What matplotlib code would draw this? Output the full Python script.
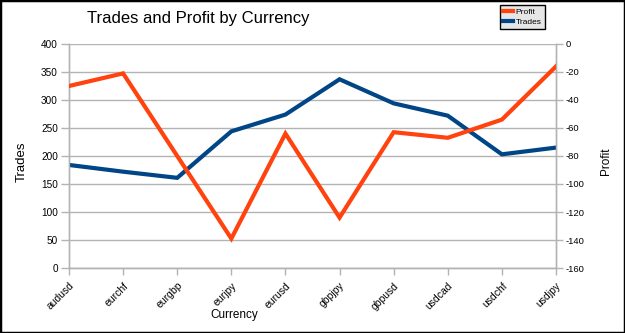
import matplotlib
matplotlib.use("Agg")
import matplotlib.pyplot as plt
from matplotlib.patches import Rectangle
from matplotlib.lines import Line2D

currencies = ["audusd", "eurchf", "eurgbp", "eurjpy", "eurusd",
              "gbpjpy", "gbpusd", "usdcad", "usdchf", "usdjpy"]
trades = [184, 172, 161, 244, 274, 337, 294, 272, 203, 215]
profit = [-30, -21, -80, -139, -64, -124, -63, -67, -54, -16]
left_ticks = [0, 50, 100, 150, 200, 250, 300, 350, 400]
right_ticks = [0, -20, -40, -60, -80, -100, -120, -140, -160]

plt.rcParams['font.family'] = ['Liberation Sans', 'DejaVu Sans']
plt.rcParams['axes.unicode_minus'] = False

RED = '#ff420e'
BLUE = '#004586'
GRID = '#b3b3b3'

fig = plt.figure(figsize=(6.25, 3.33), dpi=100)
ax = fig.add_axes([69/625, 1-268/333, (556-69)/625, (268-44)/333])
ax2 = ax.twinx()

x = list(range(len(currencies)))
ax.plot(x, trades, color=BLUE, lw=3, solid_joinstyle='miter', zorder=3)
ax2.plot(x, profit, color=RED, lw=3, solid_joinstyle='miter', zorder=3)

ax.set_xlim(0, len(currencies)-1)
ax.set_ylim(0, 400)
ax2.set_ylim(-160, 0)
ax.set_yticks(left_ticks)
ax2.set_yticks(right_ticks)
ax.set_xticks(x)
ax.set_xticklabels(currencies, rotation=45, ha='right', va='top',
                   rotation_mode='anchor', fontsize=7.5)
ax.tick_params(axis='y', labelsize=7.2, length=6, color=GRID, width=1, pad=2)
ax.tick_params(axis='x', length=5, color=GRID, width=1, pad=4)
ax2.tick_params(axis='y', labelsize=6.8, length=5, color=GRID, width=1, pad=2)

ax.yaxis.grid(True, color=GRID, lw=1)
ax.set_axisbelow(True)
for a in (ax, ax2):
    for s in a.spines.values():
        s.set_color(GRID)
        s.set_linewidth(1)
    a.spines['top'].set_visible(False)

fig.text(22/625, 1-162/333, "Trades", fontsize=9.5, rotation=90, ha='center', va='center')
fig.text(606/625, 1-161/333, "Profit", fontsize=8.5, rotation=90, ha='center', va='center')
fig.text(234/625, 1-315/333, "Currency", fontsize=8.5, ha='center', va='center')
fig.text(198/625, 1-18/333, "Trades and Profit by Currency", fontsize=12, ha='center', va='center')

handles = [Line2D([], [], color=RED, lw=3), Line2D([], [], color=BLUE, lw=3)]
leg = fig.legend(handles, ["Profit", "Trades"], loc='upper left',
                 bbox_to_anchor=(500/625, 1-5/333), fontsize=6,
                 frameon=True, fancybox=False, handlelength=1.2,
                 handletextpad=0.3, borderpad=0.4, labelspacing=0.25,
                 borderaxespad=0)
leg.get_frame().set_facecolor('#e6e6e6')
leg.get_frame().set_edgecolor('black')
leg.get_frame().set_linewidth(1)
leg.get_frame().set_alpha(1)

fig.patches.append(Rectangle((0, 0), 1, 1, transform=fig.transFigure,
                             fill=False, ec='black', lw=2.5))

fig.savefig("out.png", dpi=100)
